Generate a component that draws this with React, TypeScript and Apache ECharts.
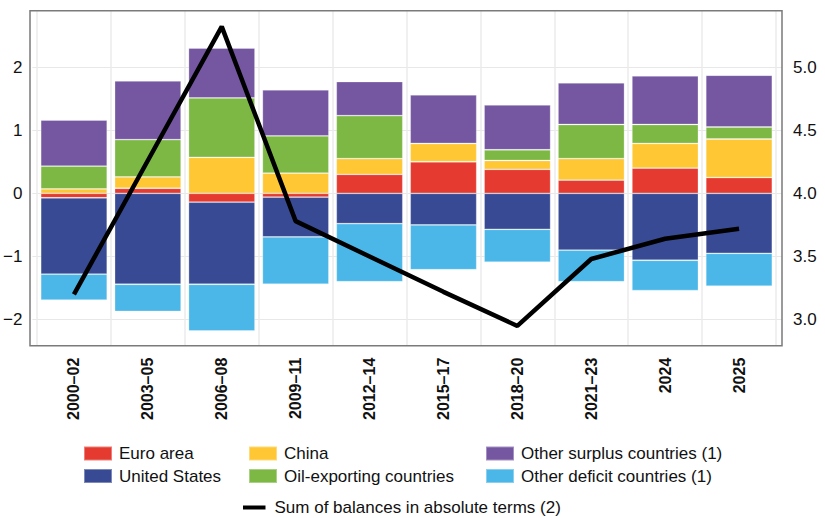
import { useEffect, useRef } from 'react'
import * as echarts from 'echarts'

const categories = ['2000–02', '2003–05', '2006–08', '2009–11', '2012–14', '2015–17', '2018–20', '2021–23', '2024', '2025']

const euroArea = [-0.07, 0.08, -0.14, -0.06, 0.3, 0.5, 0.38, 0.21, 0.4, 0.25]
const unitedStates = [-1.21, -1.44, -1.3, -0.63, -0.48, -0.5, -0.57, -0.9, -1.06, -0.95]
const china = [0.07, 0.18, 0.57, 0.32, 0.25, 0.29, 0.14, 0.34, 0.39, 0.61]
const oilExporting = [0.36, 0.59, 0.94, 0.59, 0.68, 0.0, 0.17, 0.54, 0.3, 0.19]
const otherSurplus = [0.73, 0.93, 0.79, 0.73, 0.54, 0.77, 0.71, 0.66, 0.77, 0.82]
const otherDeficit = [-0.41, -0.43, -0.74, -0.75, -0.92, -0.71, -0.52, -0.5, -0.48, -0.52]
const sumOfBalances = [3.2, 4.26, 5.32, 3.78, 3.5, 3.22, 2.95, 3.48, 3.64, 3.72]

const FONT = 'Liberation Sans, Arial, sans-serif'

const App = () => {
  const ref = useRef<HTMLDivElement | null>(null)

  useEffect(() => {
    if (!ref.current) return
    const chart = echarts.init(ref.current, null, { renderer: 'svg' })

    const bar = (name: string, data: number[], color: string) => ({
      name,
      type: 'bar',
      stack: 'bal',
      xAxisIndex: 1,
      yAxisIndex: 2,
      data,
      barCategoryGap: '10%',
      itemStyle: { color, borderColor: 'rgba(255,255,255,0.35)', borderWidth: 0.8 }
    })

    const legendBase = {
      orient: 'vertical',
      padding: 0,
      itemWidth: 28,
      itemHeight: 14,
      itemGap: 5.5,
      icon: 'rect',
      textStyle: { fontFamily: FONT, fontSize: 17, color: '#111', padding: [0, 0, 0, 2] }
    }

    const option = {
      animation: false,
      textStyle: { fontFamily: FONT },
      grid: [
        { left: 30, right: 43, top: 10.7, bottom: 172.3 },
        { left: 37, right: 49, top: 10.7, bottom: 172.3 }
      ],
      xAxis: [
        { type: 'value', gridIndex: 0, min: 0, max: 1, show: false },
        {
          type: 'category',
          gridIndex: 1,
          data: categories,
          axisLine: { show: false },
          axisTick: { show: false },
          axisLabel: {
            rotate: 90,
            margin: 12,
            fontSize: 16,
            fontWeight: 'bold',
            color: '#111',
            fontFamily: FONT
          },
          splitLine: { show: true, lineStyle: { color: '#ebebeb', width: 1.5 } }
        }
      ],
      yAxis: [
        {
          type: 'value',
          gridIndex: 0,
          min: -2.413,
          max: 2.892,
          axisLine: { show: false },
          axisTick: { show: false },
          axisLabel: {
            showMinLabel: false,
            showMaxLabel: false,
            margin: 10,
            fontSize: 17,
            color: '#111',
            fontFamily: FONT,
            formatter: (v: number) => (v < 0 ? '\u2212' + Math.abs(v) : String(v))
          },
          splitLine: { show: true, lineStyle: { color: '#e8e8e8', width: 1 } }
        },
        {
          type: 'value',
          gridIndex: 0,
          position: 'right',
          min: 2.7935,
          max: 5.446,
          axisLine: { show: false },
          axisTick: { show: false },
          axisLabel: {
            showMinLabel: false,
            showMaxLabel: false,
            margin: 11,
            fontSize: 17,
            color: '#111',
            fontFamily: FONT,
            formatter: (v: number) => v.toFixed(1)
          },
          splitLine: { show: false }
        },
        { type: 'value', gridIndex: 1, min: -2.413, max: 2.892, show: false, splitLine: { show: false } },
        { type: 'value', gridIndex: 1, min: 2.7935, max: 5.446, show: false, position: 'right', splitLine: { show: false } }
      ],
      legend: [
        { ...legendBase, left: 83, top: 445, data: ['Euro area', 'United States'] },
        { ...legendBase, left: 248, top: 445, data: ['China', 'Oil-exporting countries'] },
        { ...legendBase, left: 485, top: 445, data: ['Other surplus countries (1)', 'Other deficit countries (1)'] },
        {
          ...legendBase,
          left: 243,
          top: 499,
          itemWidth: 22.5,
          itemHeight: 4,
          textStyle: { ...legendBase.textStyle, padding: [0, 0, 0, 4] },
          data: ['Sum of balances in absolute terms (2)']
        }
      ],
      graphic: [
        {
          type: 'rect',
          z: 100,
          shape: { x: 30, y: 10.7, width: 752, height: 335 },
          style: { fill: 'none', stroke: '#7a7a7a', lineWidth: 1.5 }
        }
      ],
      series: [
        bar('Euro area', euroArea, '#E53A2F'),
        bar('United States', unitedStates, '#384A94'),
        bar('China', china, '#FEC733'),
        bar('Oil-exporting countries', oilExporting, '#7CB843'),
        bar('Other surplus countries (1)', otherSurplus, '#7457A0'),
        bar('Other deficit countries (1)', otherDeficit, '#4BB7E8'),
        {
          name: 'Sum of balances in absolute terms (2)',
          type: 'line',
          xAxisIndex: 1,
          yAxisIndex: 3,
          data: sumOfBalances,
          symbol: 'none',
          z: 10,
          itemStyle: { color: '#000' },
          lineStyle: { color: '#000', width: 4.5 }
        }
      ]
    }

    chart.setOption(option as any)
    return () => chart.dispose()
  }, [])

  return <div ref={ref} style={{ position: 'fixed', left: 0, top: 0, width: 825, height: 518, background: '#fff' }} />
}

export default App
